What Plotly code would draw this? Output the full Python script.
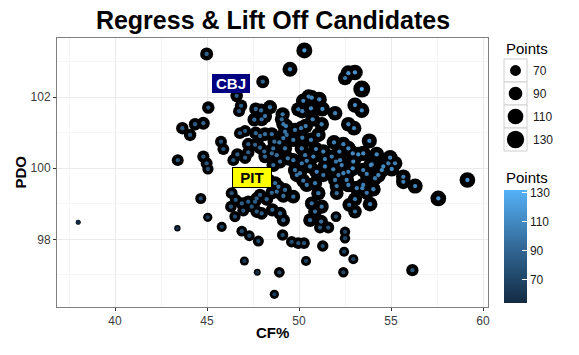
import numpy as np
import plotly.graph_objects as go

# ---------------- data ----------------
cf = [44.98, 45.07, 43.66, 44.35, 44.80, 44.08, 43.41, 44.80, 44.98, 45.05,
      38.00, 43.39, 44.66, 45.04, 50.29, 49.51, 52.50, 48.03, 46.61, 46.85,
      46.74, 47.65, 47.94, 48.42, 47.57, 48.15, 47.97, 49.11, 49.06, 49.15,
      49.29, 50.23, 50.69, 51.10, 49.96, 50.18, 50.65, 51.27, 50.74, 51.23,
      49.78, 50.11, 50.36, 49.24, 49.33, 49.15, 47.07, 46.79, 47.65, 47.88,
      48.15, 48.52, 48.66, 48.93, 49.69, 50.18, 50.65, 51.05, 45.76, 45.89,
      46.65, 47.24, 47.24, 47.07, 47.88, 48.11, 48.15, 48.60, 48.79, 49.24,
      49.39, 49.69, 50.15, 50.33, 50.78, 50.92, 51.32, 51.41, 50.42, 53.41,
      53.04, 53.41, 51.96, 52.68, 52.99, 53.82, 52.41, 51.90, 52.19, 52.68,
      52.92, 53.22, 53.49, 54.22, 54.95, 55.22, 54.85, 53.95, 51.78, 52.23,
      52.68, 53.04, 59.15, 52.01, 52.32, 51.86, 52.14, 52.41, 52.68, 52.92,
      52.95, 53.49, 53.68, 53.90, 54.13, 54.31, 54.50, 54.58, 55.04, 55.67,
      55.67, 56.31, 57.57, 51.96, 52.05, 52.05, 52.59, 52.68, 53.14, 53.44,
      53.49, 54.04, 53.68, 53.04, 52.73, 53.04, 53.86, 52.01, 52.50, 52.50,
      52.45, 52.95, 52.41, 56.16, 45.80, 46.34, 46.56, 46.30, 46.97, 46.89,
      47.24, 47.61, 47.70, 47.88, 48.24, 48.52, 47.70, 47.97, 48.55, 48.70,
      48.88, 48.79, 49.24, 49.15, 49.69, 48.97, 49.15, 49.88, 50.23, 50.42,
      50.87, 51.05, 50.69, 50.87, 51.23, 50.60, 51.20, 49.78, 50.05, 50.60,
      50.96, 51.41, 51.32, 50.15, 48.97, 48.60, 48.33, 46.89, 47.30, 47.79,
      49.11, 49.60, 49.96, 50.27, 51.29, 50.38, 47.03, 47.73, 48.93, 48.66,
      51.59, 51.14, 46.52, 47.43, 46.43, 47.61, 48.52, 50.52]

pdo = [103.22, 101.71, 101.13, 101.24, 101.27, 100.94, 100.23, 100.33, 100.14, 99.98,
       98.48, 98.31, 99.15, 98.62, 103.32, 102.79, 102.54, 102.44, 102.04, 101.76,
       101.61, 101.67, 101.63, 101.72, 101.37, 101.47, 101.38, 101.52, 101.38, 101.24,
       101.19, 101.90, 101.99, 101.94, 101.66, 101.61, 101.69, 101.67, 101.38, 101.24,
       101.08, 101.13, 101.19, 101.03, 100.94, 100.85, 101.05, 100.99, 100.99, 100.91,
       100.96, 100.96, 100.75, 100.73, 100.80, 100.86, 100.80, 100.94, 100.75, 100.54,
       100.39, 100.68, 100.45, 100.30, 100.58, 100.47, 100.33, 100.56, 100.37, 100.56,
       100.28, 100.23, 100.56, 100.37, 100.33, 100.54, 100.47, 100.26, 100.21, 102.23,
       101.78, 101.63, 101.55, 101.24, 101.13, 100.77, 100.68, 100.73, 100.47, 100.56,
       100.42, 100.39, 100.42, 100.39, 100.30, 100.14, 100.14, 100.11, 100.33, 100.23,
       102.68, 102.70, 99.67, 100.19, 100.09, 99.97, 99.81, 99.86, 99.90, 100.00,
       100.19, 99.95, 99.84, 100.09, 99.72, 99.81, 99.95, 100.05, 99.98, 99.76,
       99.62, 99.50, 99.15, 99.67, 99.50, 99.30, 99.67, 99.53, 99.44, 99.44,
       99.53, 99.41, 99.31, 99.13, 98.97, 98.78, 98.99, 98.64, 98.21, 98.03,
       97.65, 97.44, 97.07, 97.13, 98.35, 99.30, 99.11, 98.92, 98.81, 99.01,
       99.06, 99.06, 99.15, 99.25, 99.13, 99.31, 98.78, 98.73, 98.83, 99.58,
       99.48, 99.34, 99.39, 99.22, 99.20, 98.73, 98.54, 99.81, 99.65, 99.53,
       99.58, 99.30, 99.01, 98.78, 98.92, 98.54, 98.50, 99.95, 99.86, 100.05,
       99.90, 100.05, 99.81, 100.14, 100.19, 100.09, 99.67, 98.23, 98.10, 97.95,
       98.12, 97.93, 97.89, 97.89, 97.81, 97.39, 97.39, 97.07, 97.07, 96.45,
       98.33, 98.33, 98.64, 98.92, 100.23, 100.66, 100.42, 102.02]

points = [89, 85, 84, 84, 88, 84, 80, 82, 80, 75,
          54, 55, 74, 64, 119, 108, 100, 89, 85, 85,
          80, 90, 95, 100, 95, 100, 95, 100, 95, 100,
          105, 105, 110, 110, 100, 105, 110, 110, 105, 105,
          100, 100, 105, 100, 95, 100, 80, 80, 90, 90,
          95, 95, 95, 100, 100, 100, 105, 105, 80, 80,
          85, 85, 85, 85, 90, 90, 90, 95, 95, 100,
          100, 100, 100, 100, 105, 105, 105, 105, 100, 132,
          110, 110, 105, 105, 105, 110, 105, 105, 105, 110,
          110, 110, 110, 110, 110, 105, 105, 105, 100, 105,
          115, 115, 116, 100, 105, 105, 100, 105, 105, 110,
          110, 105, 105, 110, 100, 110, 110, 110, 110, 105,
          105, 110, 116, 100, 100, 95, 105, 105, 105, 105,
          105, 105, 100, 100, 95, 95, 105, 72, 70, 70,
          68, 68, 70, 83, 68, 80, 80, 78, 80, 85,
          85, 85, 85, 85, 90, 90, 85, 85, 90, 95,
          95, 95, 95, 95, 95, 90, 90, 100, 100, 100,
          100, 100, 95, 95, 100, 95, 95, 100, 100, 100,
          105, 105, 100, 100, 95, 95, 95, 72, 72, 74,
          76, 76, 78, 78, 76, 68, 63, 56, 72, 64,
          80, 80, 75, 80, 80, 88, 92, 105]

label_names = ["CBJ", "PIT"]
label_x = [46.33, 47.46]
label_y = [102.39, 99.73]

size_breaks = [70, 90, 110, 130]
colour_breaks = [70, 90, 110, 130]
x_ticks = [40, 45, 50, 55, 60]
y_ticks = [98, 100, 102]

# ---------------- styling / scales ----------------
FONT = "Liberation Sans, Arial, sans-serif"
pts = np.array(points, dtype=float)
pmin, pmax = pts.min(), pts.max()


def diameter(p):
    return 5 + 12 * np.sqrt((np.asarray(p, dtype=float) - pmin) / (pmax - pmin))


colorscale = [[0.0, "#132B43"], [0.5, "#336A98"], [1.0, "#56B1F7"]]

# the page body adds an 8px offset; layout positions below are page pixels
OFF = 8
W, H = 579 - 2 * OFF, 355 - 2 * OFF
L, R, T, B = 57 - OFF, 91 - OFF, 38 - OFF, 48 - OFF
PW, PH = W - L - R, H - T - B


def px_x(px):
    return (px - OFF - L) / PW


def px_y(py):
    return (H - B - (py - OFF)) / PH


fig = go.Figure()

fig.add_trace(go.Scatter(
    x=cf, y=pdo, mode="markers", showlegend=False, hoverinfo="skip",
    marker=dict(color="black", size=diameter(points), opacity=1, line=dict(width=0)),
))
fig.add_trace(go.Scatter(
    x=cf, y=pdo, mode="markers", showlegend=False,
    marker=dict(
        color=points, colorscale=colorscale, cmin=pmin, cmax=pmax, size=4.3,
        opacity=1, line=dict(width=0), showscale=True,
        colorbar=dict(
            x=px_x(504), xanchor="left", xpad=0,
            y=px_y(246.5), yanchor="middle", ypad=0,
            len=113, lenmode="pixels", thickness=23, thicknessmode="pixels",
            outlinewidth=0, tickvals=colour_breaks, ticks="inside", ticklen=5,
            tickcolor="white", tickwidth=1,
            tickfont=dict(family=FONT, size=12, color="#1a1a1a"),
            title=dict(text=""),
        ),
    ),
))

annotations = []
shapes = []

# point labels
label_bg = ["#000080", "#FFFF00"]
label_fg = ["white", "black"]
for name, lx, ly, bg, fg in zip(label_names, label_x, label_y, label_bg, label_fg):
    annotations.append(dict(
        x=lx, y=ly, xref="x", yref="y", text="<b>%s</b>" % name, showarrow=False,
        font=dict(family=FONT, size=15, color=fg), bgcolor=bg,
        bordercolor=fg, borderwidth=1 if fg == "black" else 0, borderpad=1,
        width=36, height=17,
    ))

# size legend
annotations.append(dict(x=px_x(504), y=px_y(48), xref="paper", yref="paper",
                        xanchor="left", yanchor="middle", showarrow=False,
                        text="Points", font=dict(family=FONT, size=15, color="black")))
for i, br in enumerate(size_breaks):
    top = 59 + 23 * i
    shapes.append(dict(type="rect", xref="paper", yref="paper",
                       x0=px_x(504), x1=px_x(527), y0=px_y(top + 23), y1=px_y(top),
                       line=dict(color="#D0D0D0", width=1), fillcolor="white", layer="above"))
    d = float(diameter(br)) + 0.5
    shapes.append(dict(type="circle", xref="paper", yref="paper",
                       xsizemode="pixel", ysizemode="pixel",
                       xanchor=px_x(515.5), yanchor=px_y(top + 11.5),
                       x0=-d / 2, x1=d / 2, y0=-d / 2, y1=d / 2,
                       fillcolor="black", line=dict(width=0), layer="above"))
    annotations.append(dict(x=px_x(531), y=px_y(top + 11.5), xref="paper", yref="paper",
                            xanchor="left", yanchor="middle", showarrow=False,
                            text=str(br), font=dict(family=FONT, size=12, color="#1a1a1a")))

# colour legend title
annotations.append(dict(x=px_x(504), y=px_y(177), xref="paper", yref="paper",
                        xanchor="left", yanchor="middle", showarrow=False,
                        text="Points", font=dict(family=FONT, size=15, color="black")))

# axis titles
annotations.append(dict(x=0.5, y=px_y(332), xref="paper", yref="paper",
                        xanchor="center", yanchor="middle", showarrow=False,
                        text="<b>CF%</b>", font=dict(family=FONT, size=15, color="black")))
annotations.append(dict(x=px_x(20), y=0.5, xref="paper", yref="paper",
                        xanchor="center", yanchor="middle", showarrow=False, textangle=-90,
                        text="<b>PDO</b>", font=dict(family=FONT, size=15, color="black")))

axis_common = dict(
    showgrid=True, gridcolor="#EBEBEB", gridwidth=1, zeroline=False,
    showline=True, linecolor="#7F7F7F", linewidth=1, mirror=True,
    ticks="outside", ticklen=3, tickcolor="#333333",
    tickfont=dict(family=FONT, size=12, color="#3C3C3C"),
)

fig.update_layout(
    width=W, height=H, autosize=False,
    margin=dict(l=L, r=R, t=T, b=B, pad=0),
    paper_bgcolor="white", plot_bgcolor="white",
    title=dict(text="<b>Regress & Lift Off Candidates</b>", x=px_x(273), xref="paper",
               y=1.0 - 3.0 / H, yref="container", xanchor="center", yanchor="top",
               pad=dict(t=0, b=0, l=0, r=0),
               font=dict(family=FONT, size=25, color="black")),
    xaxis=dict(range=[36.848, 60.27], tickvals=x_ticks,
               minor=dict(dtick=2.5, tick0=37.5, showgrid=True, gridcolor="#F6F6F6", ticks=""),
               **axis_common),
    yaxis=dict(range=[96.093, 103.67], tickvals=y_ticks,
               minor=dict(dtick=1, tick0=97, showgrid=True, gridcolor="#F6F6F6", ticks=""),
               **axis_common),
    annotations=annotations, shapes=shapes,
)

fig.write_html("out.html")
